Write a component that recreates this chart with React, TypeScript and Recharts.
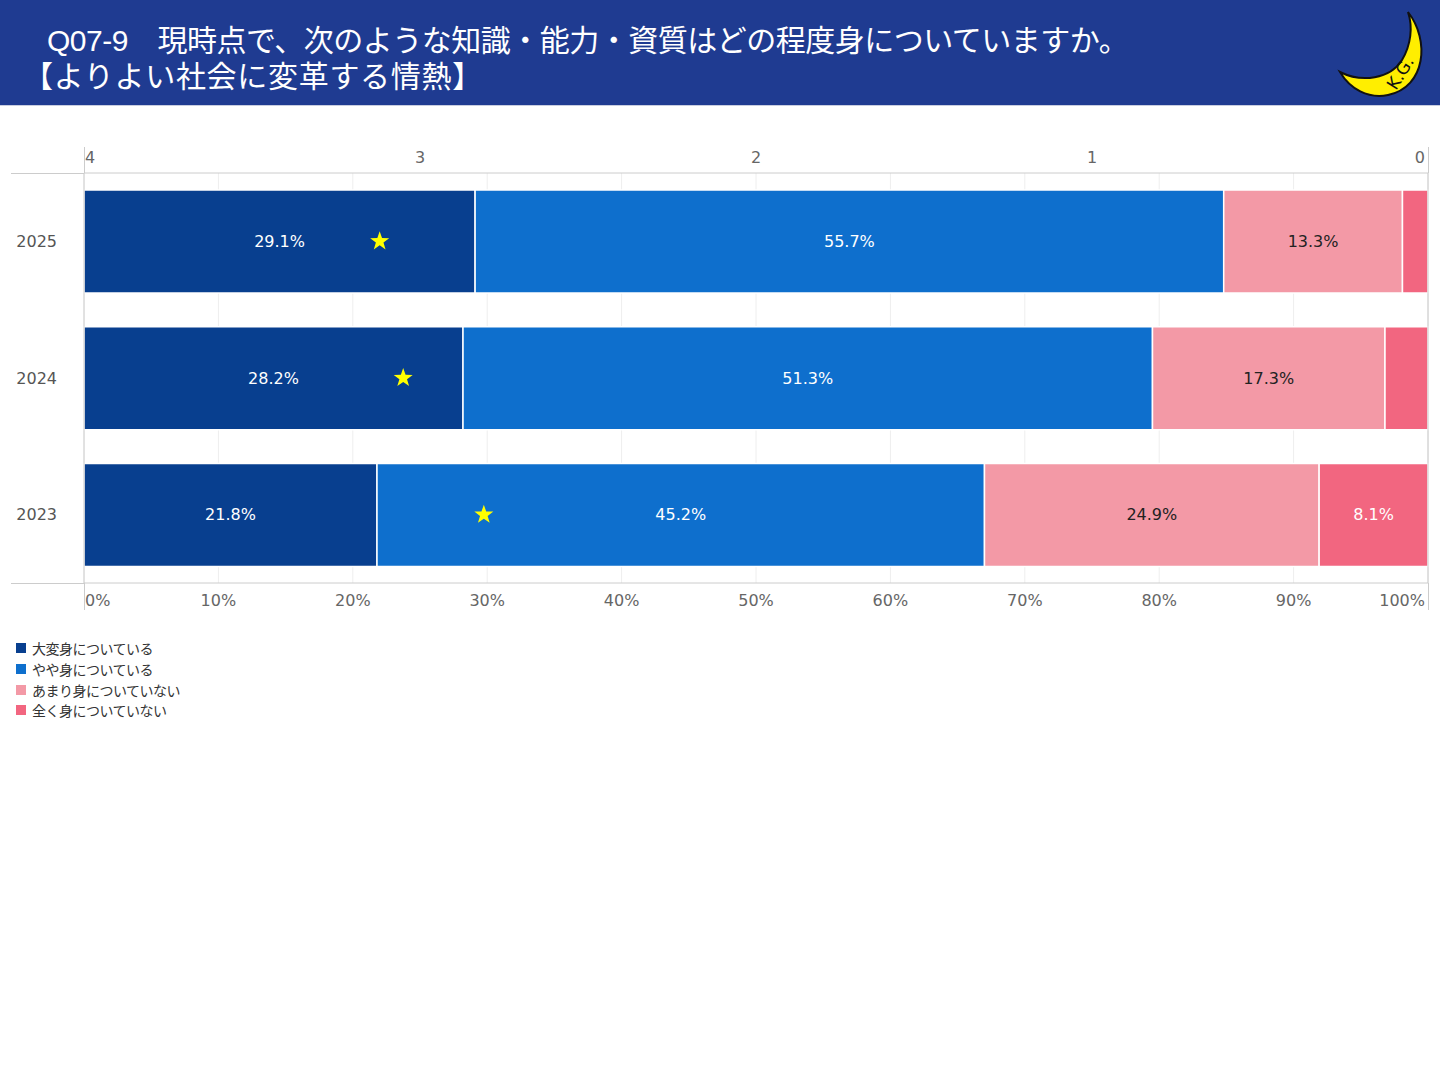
import {
  ComposedChart,
  Bar,
  Line,
  XAxis,
  YAxis,
  CartesianGrid,
  LabelList,
  ReferenceLine,
} from "recharts";

const years = ["2025", "2024", "2023"];
const veryMuch = [29.1, 28.2, 21.8];
const somewhat = [55.7, 51.3, 45.2];
const notMuch = [13.3, 17.3, 24.9];
const notAtAll = [1.9, 3.2, 8.1];
const meanScore = [3.12, 3.05, 2.81];

const pctTicks = [0, 10, 20, 30, 40, 50, 60, 70, 80, 90, 100];
const scoreTicks = [4, 3, 2, 1, 0];

const SERIES = [
  { key: "veryMuch", label: "大変身についている", color: "#083f8f", text: "#ffffff" },
  { key: "somewhat", label: "やや身についている", color: "#0e6fcd", text: "#ffffff" },
  { key: "notMuch", label: "あまり身についていない", color: "#f399a6", text: "#222222" },
  { key: "notAtAll", label: "全く身についていない", color: "#f26680", text: "#ffffff" },
];

const data = years.map((year, i) => ({
  year,
  veryMuch: veryMuch[i],
  somewhat: somewhat[i],
  notMuch: notMuch[i],
  notAtAll: notAtAll[i],
  mean: meanScore[i],
}));

const FONT = "'Noto Sans CJK JP', 'Open Sans', sans-serif";
const NUM_FONT = "'DejaVu Sans', 'Noto Sans CJK JP', sans-serif";
const HEAD_FONT = "'Liberation Sans', 'Noto Sans CJK JP', sans-serif";
const LINE = "#cccccc";

function SegmentLabel(props: any, color: string) {
  const { x, y, width, height, value } = props;
  if (value < 5) return null;
  return (
    <text
      x={x + width / 2}
      y={y + height / 2}
      textAnchor="middle"
      dominantBaseline="central"
      fill={color}
      fontSize={16}
      fontFamily={NUM_FONT}
    >
      {`${value}%`}
    </text>
  );
}

function Star(props: any) {
  const { cx, cy } = props;
  if (cx == null || cy == null) return null;
  const pts: string[] = [];
  for (let i = 0; i < 10; i++) {
    const r = i % 2 === 0 ? 10 : 4;
    const a = -Math.PI / 2 + (i * Math.PI) / 5;
    pts.push(`${cx + r * Math.cos(a)},${cy + r * Math.sin(a)}`);
  }
  return <polygon key={`star-${cx}-${cy}`} points={pts.join(" ")} fill="#ffff00" />;
}

function edgeTick(first: number, last: number, fmt: (v: number) => string, dy: number) {
  return (props: any) => {
    const { x, y, payload } = props;
    const v = payload.value;
    let anchor = "middle";
    let dx = 0;
    if (v === first) {
      anchor = "start";
      dx = 1;
    } else if (v === last) {
      anchor = "end";
      dx = -3;
    }
    return (
      <text
        x={x + dx}
        y={y + dy}
        textAnchor={anchor}
        fill="#666666"
        fontSize={16}
        fontFamily={NUM_FONT}
      >
        {fmt(v)}
      </text>
    );
  };
}

function Moon() {
  return (
    <svg
      width={100}
      height={100}
      viewBox="0 0 100 100"
      style={{ position: "absolute", left: 1330, top: 5 }}
    >
      <path
        d="M78,7 C100,35 96,82 58,90 C38,94 20,84 10,67 C32,78 60,74 72,55 C81,40 83,22 78,7 Z"
        fill="#ffee00"
        stroke="#111111"
        strokeWidth={2}
      />
      <text
        x={0}
        y={0}
        transform="translate(66,86) rotate(-58)"
        fontSize={17}
        fontFamily="'DejaVu Sans', sans-serif"
        fill="#111111"
      >
        K.G.
      </text>
    </svg>
  );
}

function Frame() {
  const line = (left: number, top: number, w: number, h: number) => (
    <div style={{ position: "absolute", left, top, width: w, height: h, background: LINE }} />
  );
  return (
    <>
      {line(11, 173, 73, 1)}
      {line(11, 583, 73, 1)}
      {line(84, 147, 1, 26)}
      {line(84, 583, 1, 27)}
      {line(1428, 147, 1, 26)}
      {line(1428, 583, 1, 27)}
    </>
  );
}

export default function App() {
  return (
    <div
      style={{
        position: "absolute",
        left: 0,
        top: 0,
        width: 1440,
        height: 1080,
        background: "#ffffff",
        fontFamily: FONT,
        overflow: "hidden",
      }}
    >
      <div
        style={{
          position: "absolute",
          left: 0,
          top: 0,
          width: 1440,
          height: 105,
          background: "#1f3b91",
          borderBottom: "1px solid #c8cde0",
        }}
      >
        <div
          style={{
            position: "absolute",
            left: 47,
            top: 25,
            color: "#fff",
            fontFamily: HEAD_FONT,
            fontSize: 30,
            lineHeight: "32px",
            letterSpacing: "-0.5px",
            whiteSpace: "nowrap",
          }}
        >
          Q07-9　現時点で、次のような知識・能力・資質はどの程度身についていますか。
        </div>
        <div
          style={{
            position: "absolute",
            left: 23,
            top: 61,
            color: "#fff",
            fontFamily: HEAD_FONT,
            fontSize: 30,
            lineHeight: "32px",
            letterSpacing: "0.7px",
            whiteSpace: "nowrap",
          }}
        >
          【よりよい社会に変革する情熱】
        </div>
        <Moon />
      </div>

      <div style={{ position: "absolute", left: 0, top: 130 }}>
        <ComposedChart
          width={1440}
          height={493}
          data={data}
          layout="vertical"
          margin={{ top: 0, right: 12, bottom: 0, left: 0 }}
          barCategoryGap="12.5%"
        >
          <CartesianGrid xAxisId="pct" horizontal={false} stroke="#eeeeee" />
          <XAxis
            xAxisId="pct"
            type="number"
            orientation="bottom"
            domain={[0, 100]}
            ticks={pctTicks}
            height={40}
            tickSize={0}
            tickMargin={0}
            axisLine={{ stroke: LINE }}
            tickLine={false}
            interval={0}
            tick={edgeTick(0, 100, (v) => `${v}%`, 23)}
          />
          <XAxis
            xAxisId="score"
            type="number"
            orientation="top"
            domain={[0, 4]}
            reversed
            ticks={scoreTicks}
            height={43}
            tickSize={0}
            tickMargin={0}
            axisLine={{ stroke: LINE }}
            tickLine={false}
            interval={0}
            tick={edgeTick(4, 0, (v) => `${v}`, -10)}
          />
          <YAxis
            type="category"
            dataKey="year"
            width={84}
            axisLine={{ stroke: LINE }}
            tickLine={false}
            tickSize={0}
            tickMargin={27}
            tick={{ fill: "#555555", fontSize: 16, fontFamily: NUM_FONT }}
          />
          <ReferenceLine xAxisId="pct" x={100} stroke={LINE} />
          {SERIES.map((s) => (
            <Bar
              key={s.key}
              xAxisId="pct"
              dataKey={s.key}
              name={s.label}
              stackId="a"
              fill={s.color}
              stroke="#ffffff"
              strokeWidth={1.5}
              isAnimationActive={false}
            >
              <LabelList dataKey={s.key} content={(p: any) => SegmentLabel(p, s.text)} />
            </Bar>
          ))}
          <Line
            xAxisId="score"
            dataKey="mean"
            stroke="none"
            dot={<Star />}
            activeDot={false}
            isAnimationActive={false}
          />
        </ComposedChart>
      </div>

      <Frame />

      <div style={{ position: "absolute", left: 16, top: 638 }}>
        {SERIES.map((s) => (
          <div
            key={s.key}
            style={{
              display: "flex",
              alignItems: "center",
              height: 20.7,
              fontSize: 14,
              letterSpacing: "-0.5px",
              color: "#333333",
            }}
          >
            <span style={{ width: 10, height: 10, background: s.color, marginRight: 6, display: "inline-block" }} />
            <span>{s.label}</span>
          </div>
        ))}
      </div>
    </div>
  );
}
